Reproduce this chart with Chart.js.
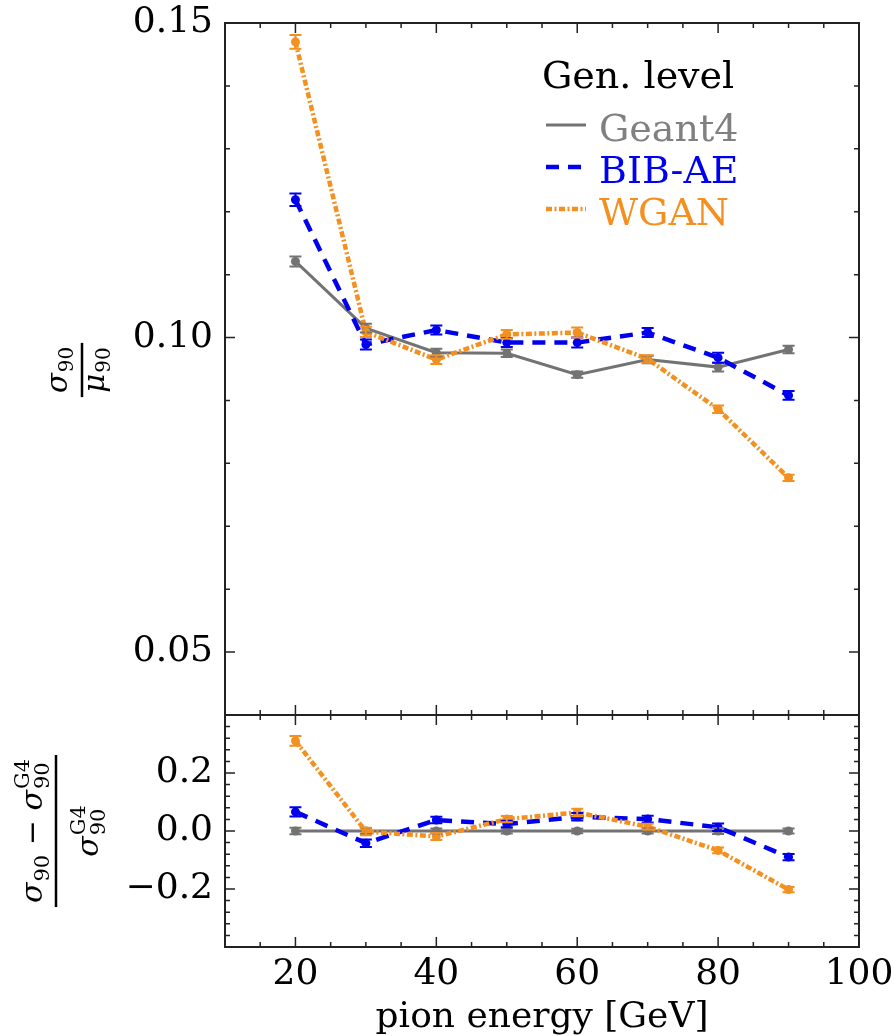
<!DOCTYPE html>
<html lang="en">
<head>
<meta charset="UTF-8">
<title>Energy resolution vs pion energy</title>
<script src="https://cdn.jsdelivr.net/npm/chart.js@4.4.1/dist/chart.umd.min.js"></script>
<style>
  * { margin: 0; padding: 0; box-sizing: border-box; }
  body { background: #ffffff; width: 896px; height: 1036px; position: relative; overflow: hidden; }
  .panel { position: absolute; left: 0; }
  #top-panel { top: 0; }
  #ratio-panel { top: 700px; }
</style>
</head>
<body>
<canvas id="top-panel" class="panel" width="896" height="730"></canvas>
<canvas id="ratio-panel" class="panel" width="896" height="336"></canvas>
<script>
// --- data ---
const energies = [20, 30, 40, 50, 60, 70, 80, 90];

const geant4Res = [0.1121, 0.1015, 0.0976, 0.0975, 0.0941, 0.0965, 0.0953, 0.0981];
const geant4Err = [0.0008, 0.0007, 0.0006, 0.0006, 0.0005, 0.0006, 0.0007, 0.0006];
const bibaeRes  = [0.1219, 0.0989, 0.1012, 0.0992, 0.0992, 0.1008, 0.0968, 0.0908];
const bibaeErr  = [0.0010, 0.0008, 0.0007, 0.0007, 0.0008, 0.0007, 0.0008, 0.0007];
const wganRes   = [0.1470, 0.1009, 0.0965, 0.1005, 0.1008, 0.0966, 0.0886, 0.0777];
const wganErr   = [0.0011, 0.0008, 0.0007, 0.0007, 0.0008, 0.0006, 0.0006, 0.0005];

const geant4Ratio = [0, 0, 0, 0, 0, 0, 0, 0];
const geant4RatioErr = [0.011, 0.010, 0.009, 0.009, 0.008, 0.009, 0.010, 0.009];
const bibaeRatio  = [0.066, -0.042, 0.038, 0.024, 0.049, 0.041, 0.013, -0.090];
const bibaeRatioErr = [0.016, 0.013, 0.011, 0.011, 0.013, 0.012, 0.013, 0.011];
const wganRatio   = [0.311, -0.002, -0.019, 0.041, 0.064, 0.015, -0.067, -0.202];
const wganRatioErr = [0.017, 0.013, 0.012, 0.011, 0.013, 0.010, 0.010, 0.009];

const seriesNames = ["Geant4", "BIB-AE", "WGAN"];
const topYTicks = [0.05, 0.10, 0.15];
const ratioYTicks = [-0.2, 0.0, 0.2];
const xTicks = [20, 40, 60, 80, 100];

// --- style ---
const SERIF = "'DejaVu Serif', 'Liberation Serif', serif";
const GRAY = "#737373", BLUE = "#0000ee", ORANGE = "#f39020";
const styles = [
  { color: GRAY,   text: "#808080", width: 3, dash: [] },
  { color: BLUE,   text: "#0000f0", width: 4.5, dash: [13, 9] },
  { color: ORANGE, text: "#f39020", width: 4.5, dash: [6, 2.5, 2, 2.5] },
];

const toPoints = (ys) => energies.map((e, i) => ({ x: e, y: ys[i] }));

const makeDatasets = (values, errors) => values.map((vals, k) => ({
  label: seriesNames[k],
  data: toPoints(vals),
  errors: errors[k],
  borderColor: styles[k].color,
  backgroundColor: styles[k].color,
  borderWidth: styles[k].width,
  borderDash: styles[k].dash,
  pointRadius: 4.5,
  pointBorderWidth: 0,
  pointBackgroundColor: styles[k].color,
  tension: 0,
  order: 3 - k,
}));

// error bars, drawn through the chart scales
const errorBars = {
  id: "errorBars",
  afterDatasetsDraw(chart) {
    const { ctx } = chart;
    const xs = chart.scales.x, ys = chart.scales.y;
    chart.data.datasets.forEach((ds) => {
      ctx.save();
      ctx.strokeStyle = ds.borderColor;
      ctx.lineWidth = 2;
      ds.data.forEach((p, i) => {
        const px = xs.getPixelForValue(p.x);
        const lo = ys.getPixelForValue(p.y - ds.errors[i]);
        const hi = ys.getPixelForValue(p.y + ds.errors[i]);
        ctx.beginPath();
        ctx.moveTo(px, lo); ctx.lineTo(px, hi);
        ctx.moveTo(px - 6, lo); ctx.lineTo(px + 6, lo);
        ctx.moveTo(px - 6, hi); ctx.lineTo(px + 6, hi);
        ctx.stroke();
      });
      ctx.restore();
    });
  },
};

// box frame with inward ticks on all four sides (matplotlib classic look)
const frameTicks = {
  id: "frameTicks",
  afterDraw(chart, args, opts) {
    const { ctx, chartArea: a } = chart;
    const xs = chart.scales.x, ys = chart.scales.y;
    ctx.save();
    ctx.strokeStyle = "#222";
    ctx.lineWidth = 1.5;
    ctx.beginPath();
    for (let v = 10; v <= 100; v += 5) {
      const px = xs.getPixelForValue(v);
      const len = v % 20 === 0 ? 10 : 5;
      ctx.moveTo(px, a.bottom); ctx.lineTo(px, a.bottom - len);
      ctx.moveTo(px, a.top); ctx.lineTo(px, a.top + len);
    }
    for (let k = opts.kMin; k <= opts.kMax; k++) {
      const py = ys.getPixelForValue(k * opts.step);
      const len = k % 5 === 0 ? 10 : 5;
      ctx.moveTo(a.left, py); ctx.lineTo(a.left + len, py);
      ctx.moveTo(a.right, py); ctx.lineTo(a.right - len, py);
    }
    ctx.stroke();
    ctx.lineWidth = 2;
    ctx.strokeRect(a.left, a.top, a.right - a.left, a.bottom - a.top);
    ctx.restore();
  },
};

// small mathtext helper: tokens are {base, sub, sup} or {text}
function tokenWidth(ctx, t, size) {
  const small = Math.round(size * 0.7);
  if (t.text) { ctx.font = `${size}px ${SERIF}`; return ctx.measureText(t.text).width; }
  ctx.font = `italic ${size}px ${SERIF}`;
  const w = ctx.measureText(t.base).width;
  ctx.font = `${small}px ${SERIF}`;
  const ws = t.sub ? ctx.measureText(t.sub).width : 0;
  const wp = t.sup ? ctx.measureText(t.sup).width : 0;
  return w + 1 + Math.max(ws, wp);
}
function mathWidth(ctx, tokens, size) {
  return tokens.reduce((s, t) => s + tokenWidth(ctx, t, size), 0);
}
function drawMath(ctx, tokens, x, y, size) {
  const small = Math.round(size * 0.7);
  ctx.textBaseline = "alphabetic";
  ctx.textAlign = "left";
  for (const t of tokens) {
    if (t.text) {
      ctx.font = `${size}px ${SERIF}`;
      ctx.fillText(t.text, x, y);
      x += ctx.measureText(t.text).width;
      continue;
    }
    ctx.font = `italic ${size}px ${SERIF}`;
    ctx.fillText(t.base, x, y);
    x += ctx.measureText(t.base).width + 1;
    ctx.font = `${small}px ${SERIF}`;
    let adv = 0;
    if (t.sub) { ctx.fillText(t.sub, x, y + size * 0.22); adv = ctx.measureText(t.sub).width; }
    if (t.sup) { ctx.fillText(t.sup, x, y - size * 0.42); adv = Math.max(adv, ctx.measureText(t.sup).width); }
    x += adv;
  }
}
function drawFraction(ctx, cx, cy, num, den, size, numBase, denBase) {
  ctx.save();
  ctx.translate(cx, cy);
  ctx.rotate(-Math.PI / 2);
  ctx.fillStyle = "#000";
  const wn = mathWidth(ctx, num, size), wd = mathWidth(ctx, den, size);
  const bar = Math.max(wn, wd) + 8;
  drawMath(ctx, num, -wn / 2, numBase, size);
  drawMath(ctx, den, -wd / 2, denBase, size);
  ctx.fillRect(-bar / 2, -1.25, bar, 2.5);
  ctx.restore();
}

const yTitle = {
  id: "yTitle",
  afterDraw(chart, args, opts) {
    const { ctx } = chart;
    if (opts.kind === "res") {
      drawFraction(ctx, 82, 370,
        [{ base: "σ", sub: "90" }],
        [{ base: "μ", sub: "90" }], 29, -15, 22);
    } else {
      drawFraction(ctx, 56, 131,
        [{ base: "σ", sub: "90" }, { text: " − " }, { base: "σ", sub: "90", sup: "G4" }],
        [{ base: "σ", sub: "90", sup: "G4" }], 30, -14, 42);
    }
  },
};

// legend drawn inside the upper panel
const innerLegend = {
  id: "innerLegend",
  afterDraw(chart) {
    const { ctx } = chart;
    ctx.save();
    ctx.textBaseline = "alphabetic";
    ctx.textAlign = "left";
    ctx.font = `38px ${SERIF}`;
    ctx.fillStyle = "#000";
    ctx.fillText("Gen. level", 542, 88);
    const rows = [125, 167, 209];
    seriesNames.forEach((name, k) => {
      const y = rows[k];
      ctx.strokeStyle = styles[k].color;
      ctx.lineWidth = styles[k].width;
      ctx.setLineDash(styles[k].dash);
      ctx.beginPath();
      ctx.moveTo(546, y); ctx.lineTo(586, y);
      ctx.stroke();
      ctx.setLineDash([]);
      ctx.fillStyle = styles[k].text;
      ctx.fillText(name, 599, y + 16);
    });
    ctx.restore();
  },
};

const tickFont = { family: SERIF, size: 36 };

const fixWidth = (s) => { s.width = 225; s.paddingTop = 0; s.paddingBottom = 0; };

new Chart(document.getElementById("top-panel"), {
  type: "line",
  data: { datasets: makeDatasets([geant4Res, bibaeRes, wganRes], [geant4Err, bibaeErr, wganErr]) },
  plugins: [errorBars, frameTicks, yTitle, innerLegend],
  options: {
    responsive: false,
    animation: false,
    layout: { padding: { top: 23, right: 37, bottom: 15, left: 0 } },
    plugins: {
      legend: { display: false },
      tooltip: { enabled: false },
      frameTicks: { step: 0.01, kMin: 4, kMax: 15 },
      yTitle: { kind: "res" },
    },
    scales: {
      x: { type: "linear", min: 10, max: 100, display: false },
      y: {
        min: 0.04, max: 0.15,
        grid: { display: false, drawTicks: false },
        border: { display: false },
        afterBuildTicks: (s) => { s.ticks = topYTicks.map((v) => ({ value: v })); },
        afterFit: fixWidth,
        ticks: { font: tickFont, color: "#000", padding: 12, callback: (v) => v.toFixed(2) },
      },
    },
  },
});

new Chart(document.getElementById("ratio-panel"), {
  type: "line",
  data: { datasets: makeDatasets([geant4Ratio, bibaeRatio, wganRatio], [geant4RatioErr, bibaeRatioErr, wganRatioErr]) },
  plugins: [errorBars, frameTicks, yTitle],
  options: {
    responsive: false,
    animation: false,
    layout: { padding: { top: 15, right: 37, bottom: 0, left: 0 } },
    plugins: {
      legend: { display: false },
      tooltip: { enabled: false },
      frameTicks: { step: 0.04, kMin: -10, kMax: 10 },
      yTitle: { kind: "ratio" },
    },
    scales: {
      x: {
        type: "linear", min: 10, max: 100,
        grid: { display: false, drawTicks: false },
        border: { display: false },
        afterBuildTicks: (s) => { s.ticks = xTicks.map((v) => ({ value: v })); },
        afterFit: (s) => { s.height = 89; s.paddingLeft = 0; s.paddingRight = 0; },
        ticks: { font: tickFont, color: "#000", padding: 6, maxRotation: 0, callback: (v) => String(v) },
        title: {
          display: true, text: "pion energy [GeV]", color: "#000",
          font: { family: SERIF, size: 36, lineHeight: 1 }, padding: 0,
        },
      },
      y: {
        min: -0.4, max: 0.4,
        grid: { display: false, drawTicks: false },
        border: { display: false },
        afterBuildTicks: (s) => { s.ticks = ratioYTicks.map((v) => ({ value: v })); },
        afterFit: fixWidth,
        ticks: { font: tickFont, color: "#000", padding: 12, callback: (v) => v.toFixed(1).replace("-", "−") },
      },
    },
  },
});
</script>
</body>
</html>
